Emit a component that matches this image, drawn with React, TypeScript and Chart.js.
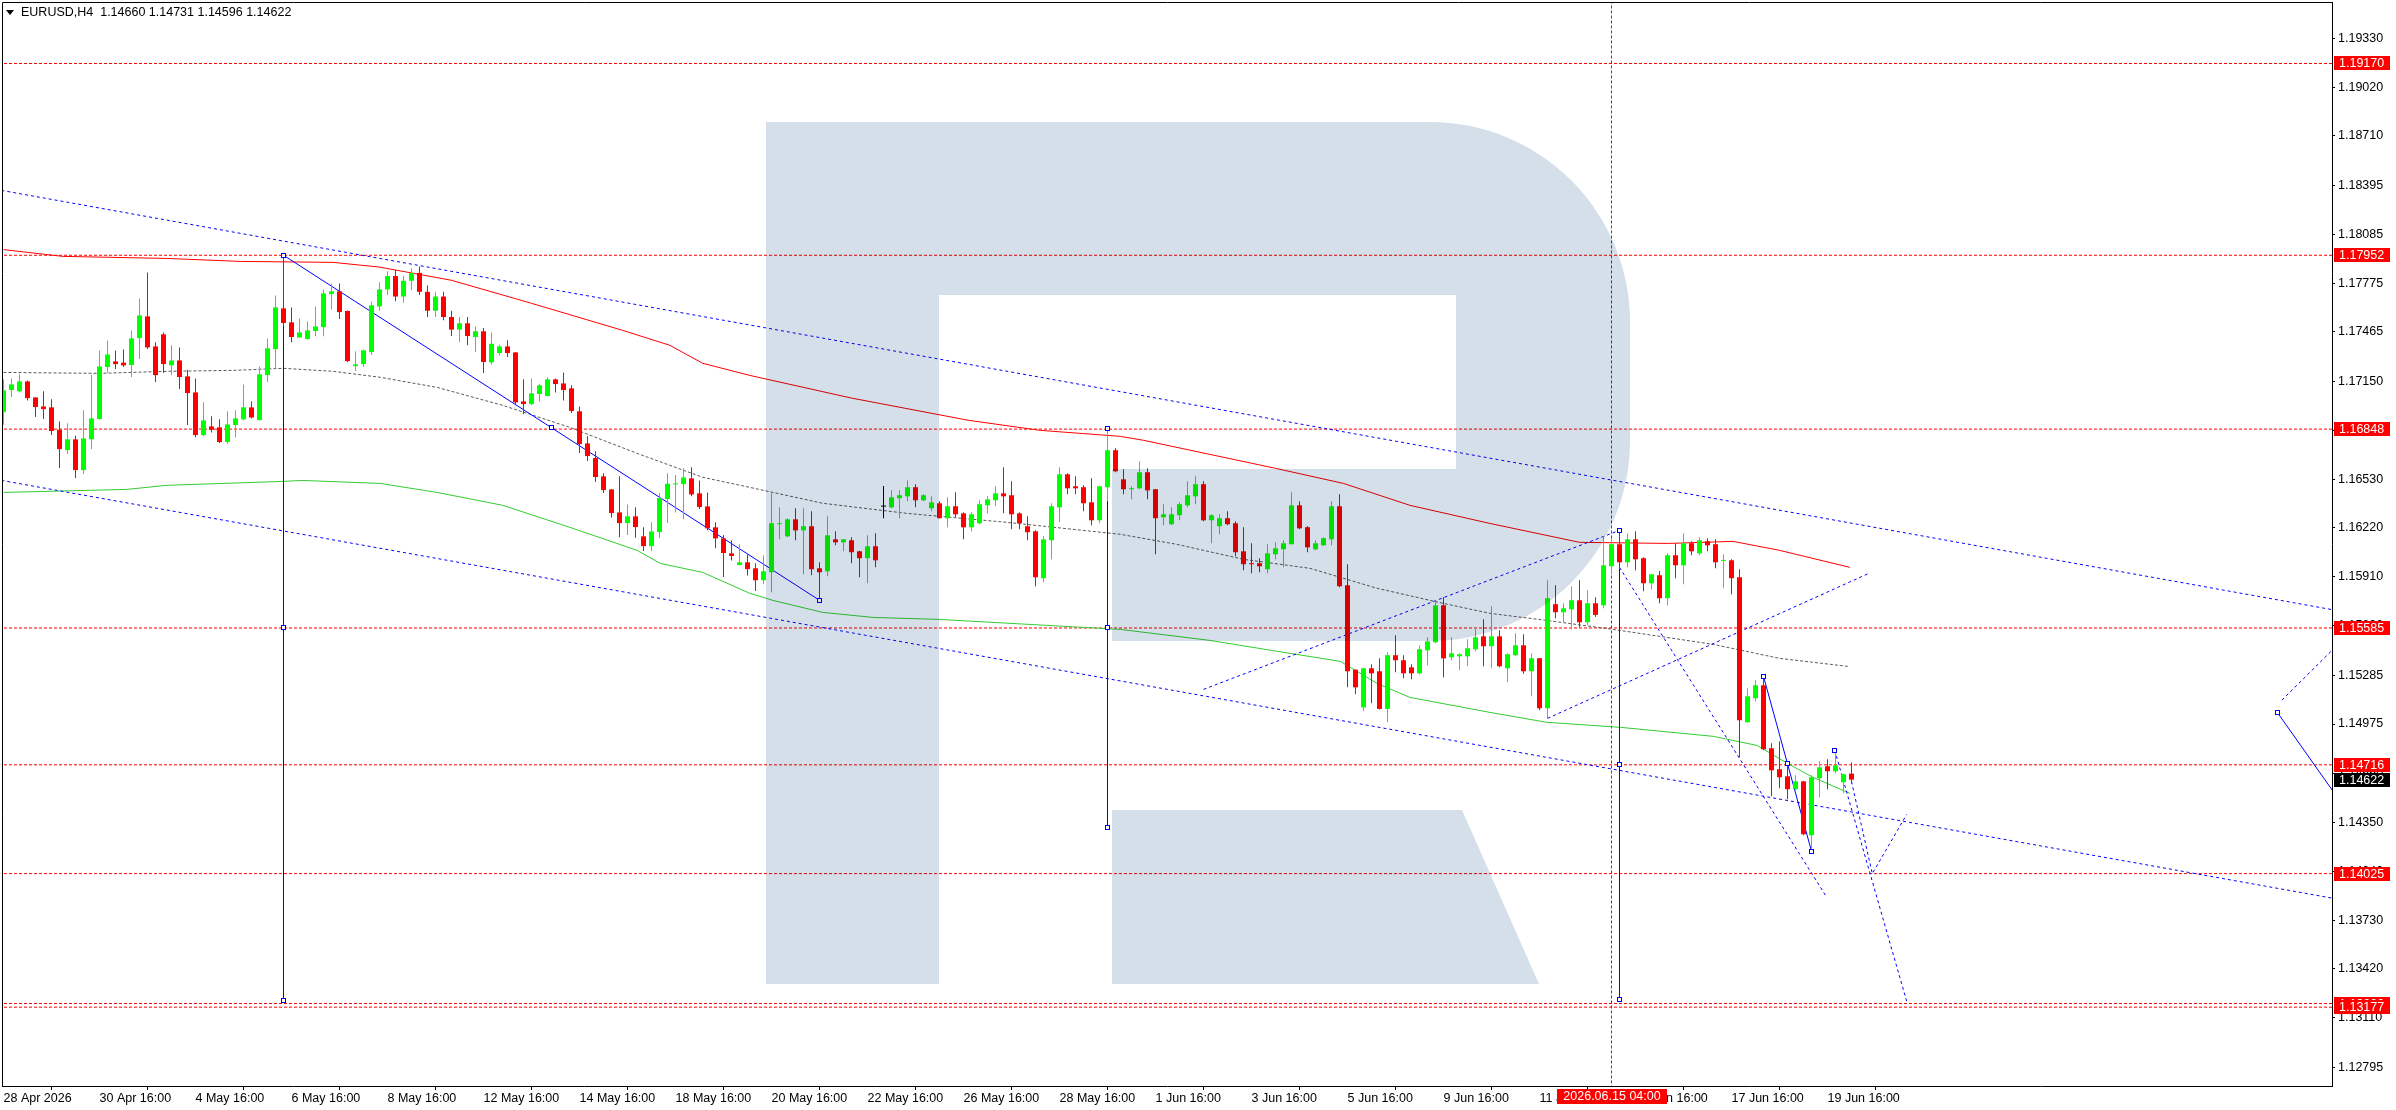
import { useEffect, useRef } from "react";
import { Chart, registerables } from "chart.js";

Chart.register(...registerables);

// ---------- candles (H4 bars, index 0 = 28 Apr 2026 16:00) ----------
const opens = [
  1.16956,1.17096,1.17088,1.17151,1.17049,1.16992,1.16986,1.16844,1.16715,1.16783,
  1.16588,1.16783,1.16912,1.17242,1.17278,1.17270,1.17255,1.17426,1.17564,1.17373,
  1.17450,1.17253,1.17284,1.17183,1.17081,1.16810,1.16865,1.16859,1.16766,1.16874,
  1.16910,1.16986,1.16905,1.17191,1.17356,1.17615,1.17526,1.17430,1.17420,1.17471,
  1.17496,1.17706,1.17723,1.17598,1.17248,1.17261,1.17337,1.17627,1.17735,1.17820,
  1.17690,1.17790,1.17840,1.17720,1.17600,1.17690,1.17560,1.17480,1.17520,1.17433,
  1.17469,1.17272,1.17331,1.17373,1.17335,1.17024,1.17007,1.17071,1.17058,1.17164,
  1.17138,1.17107,1.16961,1.16757,1.16664,1.16548,1.16465,1.16319,1.16251,1.16294,
  1.16167,1.16105,1.16194,1.16404,1.16497,1.16499,1.16535,1.16440,1.16357,1.16224,
  1.16154,1.16059,1.15985,1.16002,1.15964,1.15888,1.15939,1.16244,1.16167,1.16275,
  1.16205,1.16231,1.15964,1.15945,1.16148,1.16129,1.16142,1.16072,1.16028,1.16104,
  1.16356,1.16351,1.16409,1.16421,1.16479,1.16396,1.16345,1.16377,1.16282,1.16358,
  1.16313,1.16224,1.16250,1.16364,1.16396,1.16440,1.16428,1.16313,1.16231,1.16199,
  1.15901,1.16142,1.16351,1.16561,1.16485,1.16479,1.16383,1.16269,1.16479,1.16714,
  1.16529,1.16466,1.16472,1.16574,1.16466,1.16288,1.16244,1.16301,1.16364,1.16421,
  1.16498,1.16269,1.16231,1.16282,1.16250,1.16072,1.15996,1.15996,1.15958,1.16053,
  1.16085,1.16117,1.16364,1.16225,1.16085,1.16110,1.16148,1.16358,1.15856,1.15320,
  1.15081,1.15329,1.15310,1.15071,1.15412,1.15380,1.15335,1.15297,1.15443,1.15494,
  1.15729,1.15399,1.15405,1.15405,1.15450,1.15532,1.15469,1.15532,1.15329,1.15412,
  1.15475,1.15310,1.15393,1.15075,1.15736,1.15685,1.15704,1.15761,1.15621,1.15742,
  1.15729,1.15977,1.16117,1.16002,1.16148,1.16028,1.15869,1.15920,1.15774,1.16047,
  1.15983,1.16123,1.16059,1.16136,1.16117,1.16011,1.16015,1.15907,1.14986,1.15139,
  1.15221,1.14821,1.14688,1.14643,1.14561,1.14611,1.14268,1.14630,1.14707,1.14675,
  1.14605,1.14660,
];
const highs = [
  1.17164,1.17170,1.17196,1.17157,1.17052,1.17088,1.17037,1.16897,1.16886,1.16806,
  1.16967,1.17191,1.17348,1.17411,1.17348,1.17354,1.17475,1.17678,1.17843,1.17399,
  1.17462,1.17380,1.17367,1.17225,1.17170,1.17018,1.16929,1.16910,1.16961,1.16967,
  1.17132,1.17024,1.17246,1.17424,1.17697,1.17952,1.17621,1.17551,1.17532,1.17627,
  1.17735,1.17773,1.17773,1.17602,1.17342,1.17354,1.17659,1.17780,1.17850,1.17860,
  1.17820,1.17870,1.17880,1.17760,1.17720,1.17720,1.17600,1.17560,1.17560,1.17500,
  1.17490,1.17462,1.17384,1.17412,1.17337,1.17164,1.17170,1.17136,1.17177,1.17170,
  1.17208,1.17126,1.16992,1.16802,1.16707,1.16567,1.16467,1.16548,1.16370,1.16351,
  1.16224,1.16256,1.16442,1.16567,1.16556,1.16599,1.16605,1.16522,1.16446,1.16256,
  1.16175,1.16141,1.16116,1.16052,1.15996,1.16047,1.16440,1.16352,1.16282,1.16345,
  1.16345,1.16326,1.16002,1.16294,1.16199,1.16150,1.16161,1.16075,1.16174,1.16186,
  1.16487,1.16459,1.16459,1.16523,1.16498,1.16434,1.16421,1.16390,1.16415,1.16447,
  1.16320,1.16320,1.16396,1.16421,1.16485,1.16606,1.16517,1.16320,1.16294,1.16205,
  1.16167,1.16377,1.16606,1.16567,1.16548,1.16491,1.16536,1.16488,1.16851,1.16726,
  1.16593,1.16485,1.16644,1.16599,1.16468,1.16371,1.16352,1.16383,1.16517,1.16548,
  1.16517,1.16307,1.16307,1.16326,1.16263,1.16225,1.16123,1.16028,1.16117,1.16129,
  1.16142,1.16447,1.16390,1.16231,1.16142,1.16161,1.16390,1.16434,1.15990,1.15322,
  1.15332,1.15354,1.15392,1.15431,1.15539,1.15412,1.15354,1.15475,1.15526,1.15761,
  1.15780,1.15526,1.15424,1.15513,1.15577,1.15640,1.15723,1.15570,1.15424,1.15551,
  1.15545,1.15424,1.15395,1.15888,1.15856,1.15742,1.15850,1.15888,1.15824,1.15780,
  1.16167,1.16155,1.16205,1.16186,1.16199,1.16034,1.15928,1.15947,1.16059,1.16123,
  1.16186,1.16136,1.16161,1.16155,1.16148,1.16053,1.16021,1.15958,1.15202,1.15253,
  1.15278,1.14853,1.14865,1.14726,1.14650,1.14614,1.14650,1.14738,1.14751,1.14808,
  1.14660,1.14731,
];
const lows = [
  1.16876,1.17052,1.17081,1.17030,1.16925,1.16912,1.16810,1.16601,1.16690,1.16537,
  1.16563,1.16721,1.16910,1.17206,1.17229,1.17242,1.17179,1.17293,1.17356,1.17147,
  1.17204,1.17191,1.17102,1.16874,1.16797,1.16802,1.16827,1.16759,1.16755,1.16797,
  1.16905,1.16916,1.16903,1.17147,1.17234,1.17502,1.17399,1.17428,1.17418,1.17437,
  1.17437,1.17608,1.17547,1.17274,1.17217,1.17242,1.17318,1.17600,1.17700,1.17660,
  1.17650,1.17730,1.17700,1.17560,1.17560,1.17540,1.17440,1.17400,1.17380,1.17337,
  1.17204,1.17259,1.17316,1.17306,1.16999,1.16942,1.17001,1.17024,1.17056,1.17081,
  1.17030,1.16950,1.16696,1.16645,1.16512,1.16442,1.16287,1.16162,1.16175,1.16158,
  1.16074,1.16074,1.16156,1.16251,1.16319,1.16275,1.16421,1.16340,1.16205,1.16091,
  1.15908,1.16014,1.15983,1.15919,1.15820,1.15862,1.15812,1.16148,1.16161,1.16142,
  1.15926,1.15920,1.15761,1.15913,1.16110,1.16072,1.15996,1.15907,1.15869,1.15970,
  1.16282,1.16345,1.16282,1.16390,1.16351,1.16390,1.16326,1.16280,1.16224,1.16288,
  1.16148,1.16199,1.16244,1.16313,1.16358,1.16313,1.16212,1.16212,1.16142,1.15850,
  1.15875,1.16021,1.16256,1.16434,1.16434,1.16326,1.16237,1.16250,1.16390,1.16574,
  1.16434,1.16402,1.16466,1.16402,1.16053,1.16237,1.16237,1.16269,1.16352,1.16371,
  1.16263,1.16123,1.16180,1.16237,1.16040,1.15951,1.15932,1.15939,1.15932,1.16021,
  1.15970,1.16115,1.16212,1.16066,1.16078,1.16108,1.16110,1.15843,1.15208,1.15164,
  1.15056,1.15107,1.15068,1.14986,1.15304,1.15266,1.15259,1.15291,1.15348,1.15488,
  1.15272,1.15380,1.15316,1.15342,1.15437,1.15342,1.15329,1.15335,1.15240,1.15405,
  1.15295,1.15151,1.15062,1.15011,1.15647,1.15621,1.15576,1.15589,1.15602,1.15655,
  1.15710,1.15926,1.15958,1.15971,1.15952,1.15818,1.15831,1.15742,1.15729,1.15901,
  1.15863,1.16047,1.16047,1.16072,1.15964,1.15837,1.15799,1.14764,1.14984,1.15119,
  1.14808,1.14516,1.14567,1.14497,1.14554,1.14268,1.14167,1.14510,1.14561,1.14662,
  1.14535,1.14596,
];
const closes = [
  1.17094,1.17132,1.17151,1.17045,1.16988,1.16975,1.16836,1.16721,1.16783,1.16588,
  1.16789,1.16916,1.17246,1.17322,1.17261,1.17253,1.17424,1.17570,1.17367,1.17191,
  1.17261,1.17284,1.17179,1.17077,1.16810,1.16903,1.16844,1.16766,1.16878,1.16916,
  1.16986,1.16922,1.17196,1.17361,1.17621,1.17522,1.17433,1.17462,1.17475,1.17500,
  1.17710,1.17723,1.17591,1.17280,1.17259,1.17348,1.17634,1.17735,1.17820,1.17690,
  1.17790,1.17840,1.17720,1.17600,1.17690,1.17560,1.17480,1.17520,1.17439,1.17469,
  1.17274,1.17390,1.17373,1.17331,1.17018,1.17007,1.17075,1.17126,1.17164,1.17134,
  1.17096,1.16963,1.16753,1.16677,1.16544,1.16461,1.16315,1.16251,1.16294,1.16226,
  1.16105,1.16198,1.16410,1.16501,1.16503,1.16541,1.16433,1.16353,1.16218,1.16154,
  1.16061,1.16042,1.16002,1.15959,1.15888,1.15945,1.16250,1.16250,1.16275,1.16205,
  1.16231,1.15958,1.15939,1.16174,1.16129,1.16148,1.16066,1.16028,1.16104,1.16015,
  1.16356,1.16415,1.16428,1.16479,1.16396,1.16428,1.16383,1.16282,1.16358,1.16307,
  1.16224,1.16307,1.16371,1.16402,1.16440,1.16421,1.16307,1.16250,1.16193,1.15907,
  1.16148,1.16358,1.16561,1.16472,1.16472,1.16377,1.16269,1.16485,1.16714,1.16580,
  1.16466,1.16472,1.16574,1.16459,1.16282,1.16307,1.16307,1.16371,1.16428,1.16498,
  1.16269,1.16301,1.16282,1.16244,1.16066,1.15990,1.15990,1.15977,1.16059,1.16091,
  1.16123,1.16364,1.16218,1.16097,1.16123,1.16155,1.16358,1.15850,1.15310,1.15208,
  1.15329,1.15297,1.15071,1.15412,1.15380,1.15297,1.15297,1.15450,1.15500,1.15729,
  1.15392,1.15424,1.15418,1.15456,1.15526,1.15469,1.15532,1.15342,1.15418,1.15475,
  1.15310,1.15393,1.15075,1.15774,1.15685,1.15710,1.15761,1.15621,1.15742,1.15668,
  1.15983,1.16117,1.16002,1.16148,1.16021,1.15869,1.15926,1.15774,1.16047,1.15983,
  1.16123,1.16072,1.16142,1.16110,1.16002,1.16015,1.15901,1.14999,1.15151,1.15221,
  1.14815,1.14681,1.14637,1.14561,1.14611,1.14275,1.14637,1.14700,1.14675,1.14713,
  1.14656,1.14622,
];

// ---------- moving averages (sampled bar index -> value) ----------
const redMaX = [0, 7.4, 20.4, 29.6, 41.2, 47, 56, 66, 77.4, 83.3, 87.4, 93.3, 106, 120.6, 129.6, 139.6, 142.5, 159, 167.5, 175.8, 185.8, 197, 208, 216.2, 222, 230.8];
const redMaY = [1.17988, 1.17945, 1.17932, 1.17913, 1.17907, 1.17877, 1.17793, 1.17647, 1.17475, 1.1738, 1.17266, 1.17189, 1.17045, 1.16904, 1.1684, 1.16802, 1.16777, 1.16599, 1.16503, 1.16364, 1.16249, 1.16129, 1.16122, 1.16135, 1.16078, 1.1597];
const greenMaX = [0, 15.4, 20.4, 35, 37.4, 47.1, 54.2, 62.4, 70.8, 79.2, 82.1, 87.4, 93.3, 96.2, 102.4, 108.7, 116.7, 139.6, 150.8, 159.2, 167.1, 171.7, 175.8, 185.8, 192.9, 202.1, 213.7, 219.2, 223, 226.2, 230.8];
const greenMaY = [1.16446, 1.16465, 1.16491, 1.16516, 1.16522, 1.16503, 1.16446, 1.16364, 1.16224, 1.16078, 1.15995, 1.15938, 1.15805, 1.1576, 1.15684, 1.15652, 1.1564, 1.15576, 1.15506, 1.15437, 1.15373, 1.15233, 1.15144, 1.15049, 1.14986, 1.14954, 1.14897, 1.14839, 1.14725, 1.14636, 1.14535];
const grayMaX = [0, 12, 20.4, 28.7, 35, 41.2, 47.1, 54.2, 62.4, 70.8, 79.2, 87.4, 93.3, 102.4, 112.9, 125.4, 139.6, 146.7, 155, 163.3, 171.7, 180, 185.8, 192.9, 201.2, 213.7, 222, 230.6];
const grayMaY = [1.17208, 1.17202, 1.17215, 1.17221, 1.17234, 1.17215, 1.17177, 1.17113, 1.16999, 1.16859, 1.16694, 1.16542, 1.16478, 1.16377, 1.16313, 1.16256, 1.1618, 1.16116, 1.16021, 1.15964, 1.15837, 1.15741, 1.15678, 1.15633, 1.15576, 1.15481, 1.15392, 1.15341];

// ---------- horizontal levels ----------
const levels = [1.1917, 1.17952, 1.16848, 1.15585, 1.14716, 1.14025, 1.132, 1.13177];
const lastPrice = 1.14622;
const markedTimeIdx = 201;
const markedTimeLabel = "2026.06.15 04:00";

// ---------- drawn objects (bar index, price) ----------
const trendDown1 = [[35, 1.17952], [102, 1.15761]];
const trendDown2 = [[220, 1.15278], [226, 1.14167]];
const vert1 = [[35, 1.17952], [35, 1.13218]];
const vert2 = [[138, 1.16851], [138, 1.14319]];
const vert3 = [[202, 1.16205], [202, 1.13227]];
const rightSolid = [[284.2, 1.15051], [292, 1.1449]];
const channelTop = [[-1, 1.18371], [292, 1.15693]];
const channelBottom = [[-1, 1.16529], [292, 1.13861]];
const riseA = [[150, 1.15195], [202, 1.16205]];
const riseB = [[193, 1.15011], [233, 1.15928]];
const fallA = [[202, 1.1597], [227.8, 1.13883]];
const fallB = [[228.9, 1.14808], [237.9, 1.13214]];
const forecast = [[231, 1.1461], [233.6, 1.14025], [237.9, 1.14401]];
const rightDotted = [[284.8, 1.15127], [292, 1.1549]];
const markers = [
  [35, 1.17952], [68.5, 1.168565], [102, 1.15761],
  [35, 1.15585], [35, 1.13218],
  [138, 1.16851], [138, 1.15585], [138, 1.14319],
  [202, 1.16205], [202, 1.14716], [202, 1.13227],
  [220, 1.15278], [223, 1.147225], [226, 1.14167],
  [228.9, 1.14808], [284.2, 1.15051],
];

// ---------- axes ----------
const xTickIdx = [0, 12, 24, 36, 48, 60, 72, 84, 96, 108, 120, 132, 144, 156, 168, 180, 192, 204, 216, 228];
const xTickLabels = ["28 Apr 2026", "30 Apr 16:00", "4 May 16:00", "6 May 16:00", "8 May 16:00", "12 May 16:00", "14 May 16:00", "18 May 16:00", "20 May 16:00", "22 May 16:00", "26 May 16:00", "28 May 16:00", "1 Jun 16:00", "3 Jun 16:00", "5 Jun 16:00", "9 Jun 16:00", "11 Jun 16:00", "15 Jun 16:00", "17 Jun 16:00", "19 Jun 16:00"];
const yTicks = [1.1933, 1.1902, 1.1871, 1.18395, 1.18085, 1.17775, 1.17465, 1.1715, 1.1684, 1.1653, 1.1622, 1.1591, 1.156, 1.15285, 1.14975, 1.1466, 1.1435, 1.1404, 1.1373, 1.1342, 1.1311, 1.12795];
const headerText = "EURUSD,H4  1.14660 1.14731 1.14596 1.14622";

const X_MIN = -0.1875;
const X_MAX = 291.0625;
const Y_MIN = 1.126762;
const Y_MAX = 1.195605;

const BULL = "#00ff00";
const BEAR = "#ff0000";
const DOJI = "#000000";
const BLUE = "#0000ff";
const FONT = '"Liberation Sans", Arial, sans-serif';

const P = (arr: number[][]) => arr.map(([x, y]) => ({ x, y }));

const overlayPlugin = {
  id: "mtOverlay",
  afterDatasetsDraw(chart: any) {
    const { ctx, chartArea: a, scales } = chart;
    ctx.save();
    ctx.beginPath();
    ctx.rect(a.left, a.top, a.right - a.left, a.bottom - a.top);
    ctx.clip();
    // object anchor markers (hollow squares)
    ctx.lineWidth = 1;
    ctx.strokeStyle = BLUE;
    ctx.fillStyle = "#ffffff";
    markers.forEach(([mx, my]) => {
      const px = Math.floor(scales.x.getPixelForValue(mx));
      const py = Math.floor(scales.y.getPixelForValue(my));
      ctx.fillRect(px - 2, py - 2, 5, 5);
      ctx.strokeRect(px - 1.5, py - 1.5, 4, 4);
    });
    // watermark logo
    ctx.globalCompositeOperation = "multiply";
    ctx.fillStyle = "rgb(213,223,234)";
    ctx.fillRect(766, 122, 173, 862);
    ctx.beginPath();
    ctx.moveTo(939, 122);
    ctx.lineTo(1430, 122);
    ctx.arcTo(1630, 122, 1630, 322, 200);
    ctx.lineTo(1630, 441);
    ctx.arcTo(1630, 641, 1430, 641, 200);
    ctx.lineTo(1112, 641);
    ctx.lineTo(1112, 469);
    ctx.lineTo(1456, 469);
    ctx.lineTo(1456, 295);
    ctx.lineTo(939, 295);
    ctx.closePath();
    ctx.fill();
    ctx.beginPath();
    ctx.moveTo(1112, 810);
    ctx.lineTo(1462, 810);
    ctx.lineTo(1539, 984);
    ctx.lineTo(1112, 984);
    ctx.closePath();
    ctx.fill();
    ctx.restore();
  },
  afterDraw(chart: any) {
    const { ctx, chartArea: a, scales } = chart;
    const ys = scales.y;
    const xs = scales.x;
    ctx.save();
    // frame top + left
    ctx.strokeStyle = "#000";
    ctx.lineWidth = 1;
    ctx.beginPath();
    ctx.moveTo(a.left + 0.5, a.bottom);
    ctx.lineTo(a.left + 0.5, a.top + 0.5);
    ctx.lineTo(a.right, a.top + 0.5);
    ctx.stroke();
    // header
    ctx.fillStyle = "#000";
    ctx.beginPath();
    ctx.moveTo(6, 10);
    ctx.lineTo(14, 10);
    ctx.lineTo(10, 15);
    ctx.closePath();
    ctx.fill();
    ctx.font = `12.5px ${FONT}`;
    ctx.textBaseline = "middle";
    ctx.textAlign = "left";
    ctx.fillText(headerText, 21, 13);
    // price labels
    const drawLabel = (v: number, bg: string) => {
      const y = Math.round(ys.getPixelForValue(v));
      ctx.fillStyle = bg;
      ctx.fillRect(a.right + 2, y - 7, 56, 14);
      ctx.fillStyle = "#fff";
      ctx.fillText(v.toFixed(5), a.right + 7, y + 0.5);
    };
    levels.forEach((v) => drawLabel(v, BEAR));
    drawLabel(lastPrice, "#000");
    // time label of the vertical marker
    const tx = Math.round(xs.getPixelForValue(markedTimeIdx));
    ctx.fillStyle = BEAR;
    ctx.fillRect(tx - 55, a.bottom + 3, 110, 15);
    ctx.fillStyle = "#fff";
    ctx.textAlign = "center";
    ctx.fillText(markedTimeLabel, tx, a.bottom + 11);
    ctx.restore();
  },
};

export default function App() {
  const ref = useRef<HTMLCanvasElement>(null);
  useEffect(() => {
    const canvas = ref.current;
    if (!canvas) return;
    const idx = opens.map((_, i) => i);
    const colors = idx.map((i) => (closes[i] > opens[i] ? BULL : closes[i] < opens[i] ? BEAR : DOJI));
    const line = (data: any[], color: string, order: number, dash: number[] = [], width = 1) => ({
      type: "line",
      data,
      borderColor: color,
      borderWidth: width,
      borderDash: dash,
      pointRadius: 0,
      pointHoverRadius: 0,
      fill: false,
      tension: 0,
      order,
    });
    const datasets: any[] = [
      {
        type: "bar",
        data: idx.map((i) => ({ x: i, y: [opens[i], closes[i]] })),
        backgroundColor: colors,
        borderWidth: 0,
        barThickness: 5,
        minBarLength: 1,
        grouped: false,
        inflateAmount: 0,
        order: 0,
      },
      {
        type: "bar",
        data: idx.map((i) => ({ x: i, y: [lows[i], highs[i]] })),
        backgroundColor: colors,
        borderWidth: 0,
        barThickness: 1,
        minBarLength: 1,
        grouped: false,
        inflateAmount: 0,
        order: 1,
      },
      line(P(trendDown1), BLUE, 3),
      line(P(trendDown2), BLUE, 3),
      line(P(vert1), BLUE, 3),
      line(P(vert2), BLUE, 3),
      line(P(vert3), BLUE, 3),
      line(P(rightSolid), BLUE, 3),
      line(P(channelTop), BLUE, 3, [3, 3]),
      line(P(channelBottom), BLUE, 3, [3, 3]),
      line(P(riseA), BLUE, 3, [3, 3]),
      line(P(riseB), BLUE, 3, [3, 3]),
      line(P(fallA), BLUE, 3, [3, 3]),
      line(P(fallB), BLUE, 3, [3, 3]),
      line(P(forecast), BLUE, 3, [3, 3]),
      line(P(rightDotted), BLUE, 3, [3, 3]),
      line(redMaX.map((x, i) => ({ x, y: redMaY[i] })), "#ff0000", 4),
      line(greenMaX.map((x, i) => ({ x, y: greenMaY[i] })), "#32cd32", 4),
      line(grayMaX.map((x, i) => ({ x, y: grayMaY[i] })), "#5a5a5a", 4, [3, 2]),
      ...levels.map((v) => line([{ x: X_MIN - 1, y: v }, { x: X_MAX + 1, y: v }], "#ff0000", 5, [3, 2])),
      line([{ x: markedTimeIdx, y: Y_MIN - 0.01 }, { x: markedTimeIdx, y: Y_MAX + 0.01 }], "#ff0000", 5, [3, 2]),
    ];
    const chart = new Chart(canvas, {
      type: "bar",
      data: { datasets },
      options: {
        responsive: false,
        animation: false,
        devicePixelRatio: 1,
        events: [],
        layout: { padding: { left: 2, top: 2, right: 0, bottom: 0 } },
        plugins: { legend: { display: false }, tooltip: { enabled: false } },
        scales: {
          x: {
            type: "linear",
            min: X_MIN,
            max: X_MAX,
            offset: false,
            afterBuildTicks: (s: any) => {
              s.ticks = xTickIdx.map((v) => ({ value: v }));
            },
            afterFit: (s: any) => {
              s.height = 24;
              s.paddingLeft = 0;
              s.paddingRight = 0;
            },
            ticks: {
              autoSkip: false,
              maxRotation: 0,
              minRotation: 0,
              align: "start",
              padding: 1,
              color: "#000",
              font: { family: FONT, size: 12.5 },
              callback: (_v: any, i: number) => xTickLabels[i],
            },
            grid: { display: true, drawOnChartArea: false, drawTicks: true, tickLength: 4, color: "#000" },
            border: { display: true, color: "#000", width: 1 },
          },
          y: {
            type: "linear",
            position: "right",
            min: Y_MIN,
            max: Y_MAX,
            afterBuildTicks: (s: any) => {
              s.ticks = yTicks.map((v) => ({ value: v }));
            },
            afterFit: (s: any) => {
              s.width = 64;
              s.paddingTop = 0;
              s.paddingBottom = 0;
            },
            ticks: {
              autoSkip: false,
              padding: 3,
              color: "#000",
              font: { family: FONT, size: 12.5 },
              callback: (v: any) => Number(v).toFixed(5),
            },
            grid: { display: true, drawOnChartArea: false, drawTicks: true, tickLength: 3, color: "#000" },
            border: { display: true, color: "#000", width: 1 },
          },
        },
      } as any,
      plugins: [overlayPlugin],
    } as any);
    return () => chart.destroy();
  }, []);
  return (
    <div style={{ position: "fixed", left: 0, top: 0, width: 2396, height: 1110, background: "#fff" }}>
      <canvas ref={ref} width={2396} height={1110} style={{ display: "block" }} />
    </div>
  );
}
